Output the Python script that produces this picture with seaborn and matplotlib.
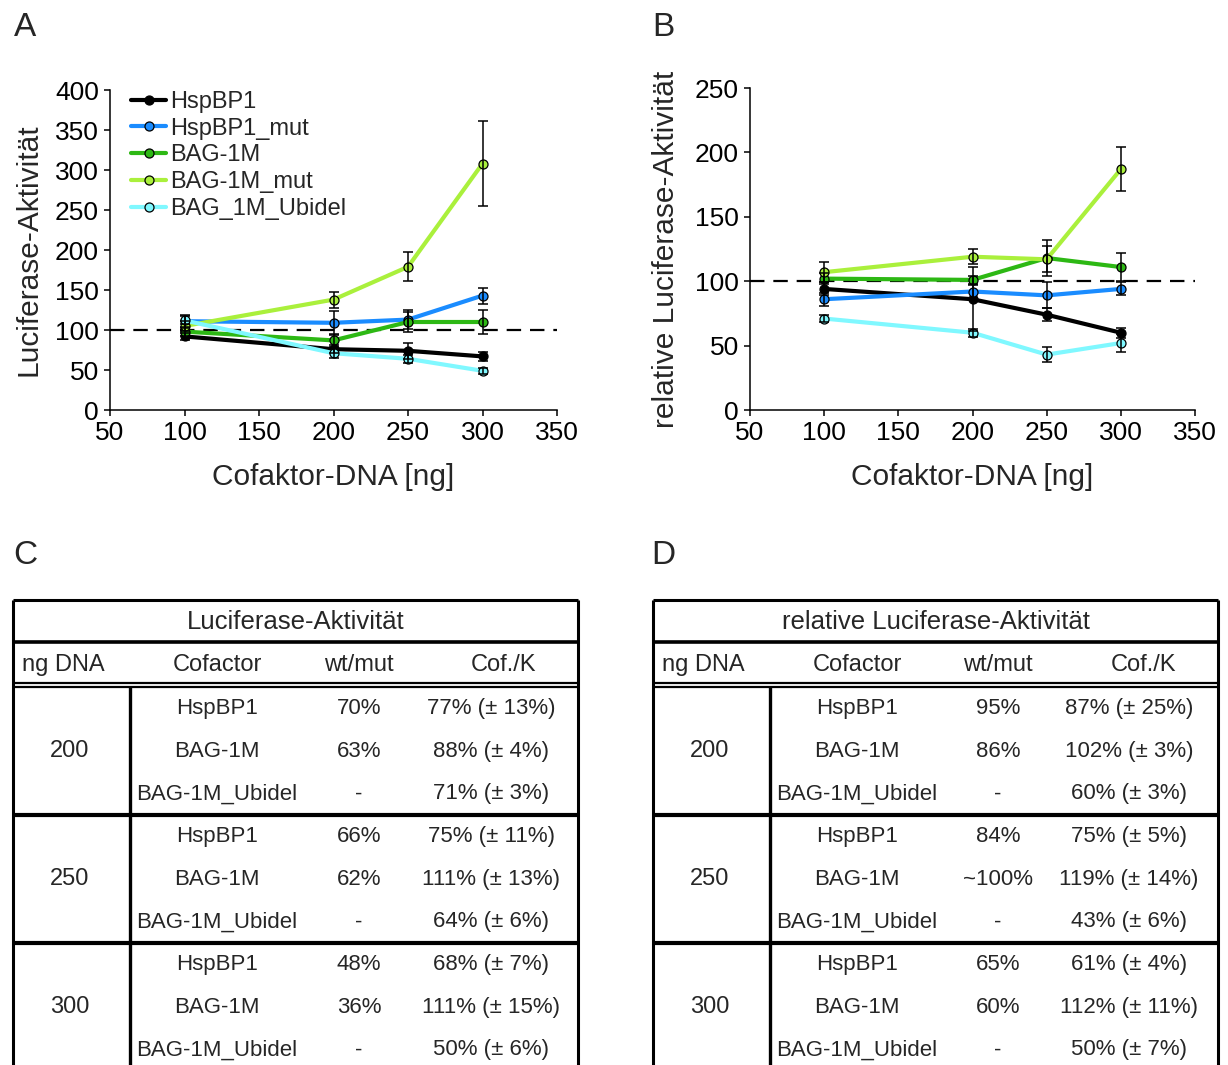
import pandas as pd
import matplotlib
matplotlib.use('Agg')
import matplotlib.pyplot as plt
import seaborn as sns

sns.set_style('ticks')
plt.rcParams['font.family'] = ['Liberation Sans', 'DejaVu Sans']
plt.rcParams['axes.unicode_minus'] = False

# Daten
dna_ng = [100, 200, 250, 300]
cofaktoren = ['HspBP1', 'HspBP1_mut', 'BAG-1M', 'BAG-1M_mut', 'BAG_1M_Ubidel']
farben = ['#000000', '#1a8cff', '#2db814', '#aaf03c', '#80f8ff']

# A: Luciferase-Aktivität (Mittelwert, Fehler)
a_hspbp1 = [92, 76, 74, 67]
a_hspbp1_err = [4, 5, 10, 6]
a_hspbp1_mut = [111, 109, 113, 143]
a_hspbp1_mut_err = [8, 15, 12, 10]
a_bag1m = [98, 87, 110, 110]
a_bag1m_err = [6, 8, 12, 15]
a_bag1m_mut = [105, 138, 179, 308]
a_bag1m_mut_err = [6, 10, 18, 53]
a_ubidel = [112, 71, 64, 49]
a_ubidel_err = [5, 6, 5, 4]

# B: relative Luciferase-Aktivität
b_hspbp1 = [94, 86, 74, 60]
b_hspbp1_err = [5, 25, 5, 4]
b_hspbp1_mut = [86, 92, 89, 94]
b_hspbp1_mut_err = [5, 5, 10, 5]
b_bag1m = [102, 101, 118, 111]
b_bag1m_err = [4, 3, 14, 11]
b_bag1m_mut = [107, 119, 117, 187]
b_bag1m_mut_err = [8, 6, 10, 17]
b_ubidel = [71, 60, 43, 52]
b_ubidel_err = [3, 3, 6, 7]

# Tabellen
tab_ng = ['200', '250', '300']
tab_cofactor = ['HspBP1', 'BAG-1M', 'BAG-1M_Ubidel']
c_wtmut = ['70%', '63%', '-', '66%', '62%', '-', '48%', '36%', '-']
c_cofk = ['77% (± 13%)', '88% (± 4%)', '71% (± 3%)',
          '75% (± 11%)', '111% (± 13%)', '64% (± 6%)',
          '68% (± 7%)', '111% (± 15%)', '50% (± 6%)']
d_wtmut = ['95%', '86%', '-', '84%', '~100%', '-', '65%', '60%', '-']
d_cofk = ['87% (± 25%)', '102% (± 3%)', '60% (± 3%)',
          '75% (± 5%)', '119% (± 14%)', '43% (± 6%)',
          '61% (± 4%)', '112% (± 11%)', '50% (± 7%)']

W, H = 1228, 1065
fig = plt.figure(figsize=(W / 100, H / 100), dpi=100)


def make_df(werte, fehler):
    rows = []
    for name, w, f in zip(cofaktoren, werte, fehler):
        for x, y, e in zip(dna_ng, w, f):
            rows.append([name, x, y, e])
    return pd.DataFrame(rows, columns=['Cofaktor', 'ng', 'wert', 'fehler'])


def plot_panel(rect, df, ymax, ylabel, legende, ypad):
    ax = fig.add_axes([rect[0] / W, (H - rect[3]) / H,
                       (rect[2] - rect[0]) / W, (rect[3] - rect[1]) / H])
    ax.axhline(100, color='black', lw=1.6, ls=(0, (6.5, 4)), zorder=1)
    sns.lineplot(data=df, x='ng', y='wert', hue='Cofaktor', hue_order=cofaktoren,
                 palette=farben, marker='o', markersize=6.5, markeredgecolor='black',
                 markeredgewidth=0.9, lw=3, errorbar=None, legend=legende, ax=ax,
                 zorder=2)
    for name in cofaktoren:
        sub = df[df['Cofaktor'] == name]
        ax.errorbar(sub['ng'], sub['wert'], yerr=sub['fehler'], fmt='none',
                    ecolor='black', elinewidth=1.1, capsize=3.5, capthick=1.1, zorder=3)
    ax.set_xlim(50, 350)
    ax.set_ylim(0, ymax)
    ax.set_xticks(range(50, 351, 50))
    ax.set_yticks(range(0, ymax + 1, 50))
    ax.tick_params(labelsize=19, length=4, width=1.1, colors='black', pad=4)
    for s in ['top', 'right']:
        ax.spines[s].set_visible(False)
    for s in ['left', 'bottom']:
        ax.spines[s].set_linewidth(1.1)
        ax.spines[s].set_color('black')
    ax.set_xlabel('Cofaktor-DNA [ng]', fontsize=21.5, labelpad=13)
    ax.set_ylabel(ylabel, fontsize=21.5, labelpad=ypad)
    if legende:
        h, l = ax.get_legend_handles_labels()
        ax.legend(h, l, loc='upper left', bbox_to_anchor=(131 / W, 1 - 91 / H),
                  bbox_transform=fig.transFigure, frameon=False, fontsize=17,
                  handlelength=1.5, handletextpad=0.15, labelspacing=0.2,
                  borderpad=0, borderaxespad=0)
    return ax


df_a = make_df([a_hspbp1, a_hspbp1_mut, a_bag1m, a_bag1m_mut, a_ubidel],
               [a_hspbp1_err, a_hspbp1_mut_err, a_bag1m_err, a_bag1m_mut_err, a_ubidel_err])
df_b = make_df([b_hspbp1, b_hspbp1_mut, b_bag1m, b_bag1m_mut, b_ubidel],
               [b_hspbp1_err, b_hspbp1_mut_err, b_bag1m_err, b_bag1m_mut_err, b_ubidel_err])

plot_panel((110, 90, 557, 410), df_a, 400, 'Luciferase-Aktivität', 'brief', 9)
plot_panel((750, 88, 1195, 410), df_b, 250, 'relative Luciferase-Aktivität', False, 11)

tabfont = ['Liberation Sans', 'DejaVu Sans']


def draw_table(left, right, titel, wtmut, cofk, col_line, ng_x, centers, head_cofk_x):
    top, bottom = 600, 1080
    ax = fig.add_axes([left / W, (H - bottom) / H, (right - left) / W, (bottom - top) / H])
    ax.set_xlim(left, right)
    ax.set_ylim(bottom, top)
    ax.axis('off')
    lk = dict(color='black', solid_capstyle='butt', clip_on=False)
    ax.plot([left, right], [top, top], lw=2.2, **lk)
    ax.plot([left, left], [top, bottom], lw=2.2, **lk)
    ax.plot([right, right], [top, bottom], lw=2.2, **lk)
    ax.plot([left, right], [642, 642], lw=2.6, **lk)
    ax.plot([left, right], [683, 683], lw=1.6, **lk)
    ax.plot([left, right], [687.5, 687.5], lw=1.6, **lk)
    block = 128
    for i in range(1, 3):
        y = 687 + block * i
        ax.plot([left, right], [y, y], lw=3, **lk)
    ax.plot([col_line, col_line], [687, bottom], lw=2.4, **lk)

    tk = dict(va='center', family=tabfont)
    ax.text((left + right) / 2, 622, titel, ha='center', fontsize=18.5, **tk)
    ax.text(left + 9, 665, 'ng DNA', ha='left', fontsize=17, **tk)
    ax.text(centers[0], 665, 'Cofactor', ha='center', fontsize=17, **tk)
    ax.text(centers[1], 665, 'wt/mut', ha='center', fontsize=17, **tk)
    ax.text(head_cofk_x, 665, 'Cof./K', ha='center', fontsize=17, **tk)
    offs = [22, 65, 107]
    for b, ng in enumerate(tab_ng):
        y0 = 687 + block * b
        ax.text(ng_x, y0 + block / 2, ng, ha='center', fontsize=17, **tk)
        for r, cof in enumerate(tab_cofactor):
            k = b * 3 + r
            y = y0 + offs[r]
            ax.text(centers[0], y, cof, ha='center', fontsize=16, **tk)
            ax.text(centers[1], y, wtmut[k], ha='center', fontsize=16, **tk)
            ax.text(centers[2], y, cofk[k], ha='center', fontsize=16, **tk)


draw_table(13, 578, 'Luciferase-Aktivität', c_wtmut, c_cofk, 130, 70, (217, 359, 491), 503)
draw_table(653, 1218, 'relative Luciferase-Aktivität', d_wtmut, d_cofk, 770, 710,
           (857, 998, 1129), 1143)

for buchstabe, x, y in [('A', 25, 28), ('B', 663, 28), ('C', 25, 555), ('D', 663, 555)]:
    fig.text(x / W, 1 - y / H, buchstabe, ha='center', va='center', fontsize=24)

fig.savefig('out.png', dpi=100)
